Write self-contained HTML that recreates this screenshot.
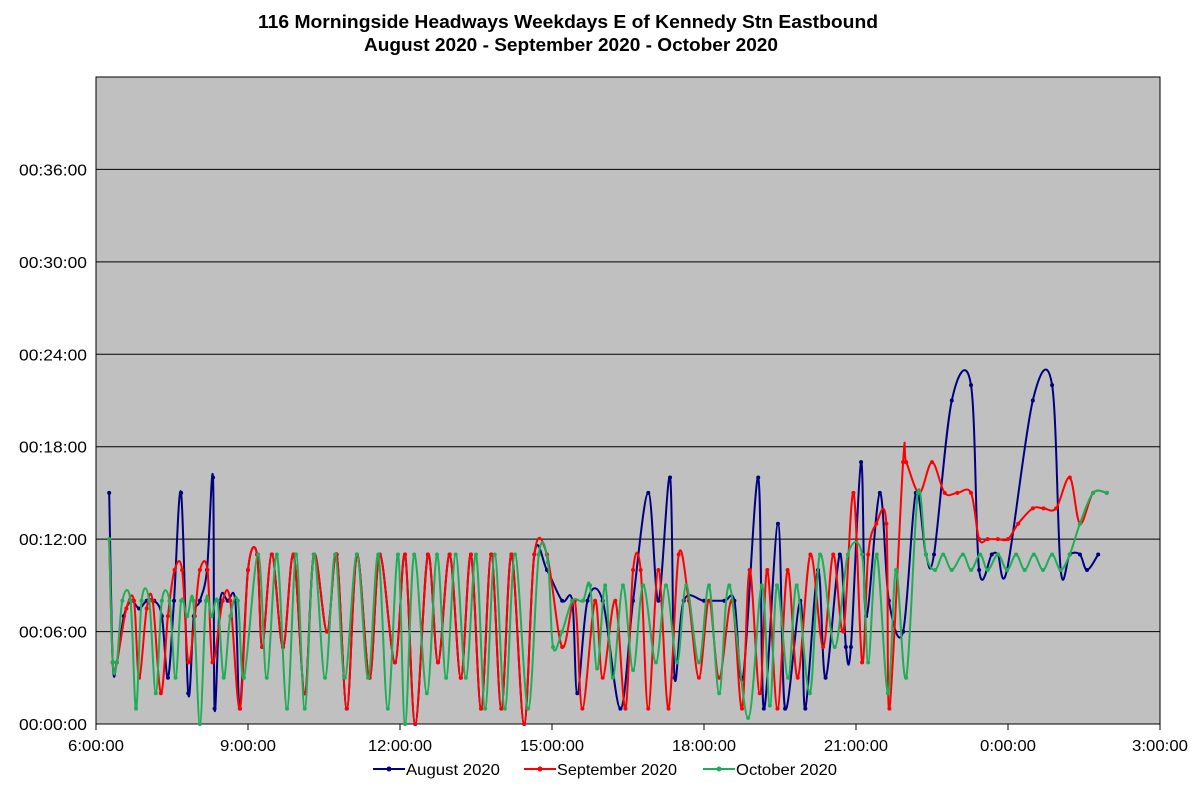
<!DOCTYPE html>
<html><head><meta charset="utf-8"><style>
body{margin:0;background:#fff;font-family:"Liberation Sans",Arial,sans-serif}
</style></head><body>
<svg width="1203" height="782" xmlns="http://www.w3.org/2000/svg" id="chart" font-family="Liberation Sans, Arial, sans-serif">
<text x="568" y="28" text-anchor="middle" font-size="18" font-weight="bold" textLength="620" lengthAdjust="spacingAndGlyphs">116 Morningside Headways Weekdays E of Kennedy Stn Eastbound</text>
<text x="571" y="51" text-anchor="middle" font-size="18" font-weight="bold" textLength="414" lengthAdjust="spacingAndGlyphs">August 2020 - September 2020 - October 2020</text>
<rect x="96" y="77" width="1064" height="647" fill="#C0C0C0" stroke="#000" stroke-width="1"/>
<g id="grid"></g><g id="axes"></g><g id="series"></g><g id="legend"></g>
</svg>
<script>
const yTicks=[0,6,12,18,24,30,36];
const yTickLabels=["00:00:00","00:06:00","00:12:00","00:18:00","00:24:00","00:30:00","00:36:00"];
const xTicks=[6,9,12,15,18,21,24,27];
const xTickLabels=["6:00:00","9:00:00","12:00:00","15:00:00","18:00:00","21:00:00","0:00:00","3:00:00"];
const augT=[6.26,6.33,6.41,6.55,6.7,6.85,7.0,7.15,7.3,7.42,7.54,7.68,7.82,7.93,8.05,8.19,8.31,8.34,8.45,8.6,8.75,8.84,9.0,9.18,9.28,9.47,9.69,9.9,10.12,10.3,10.56,10.75,10.95,11.15,11.4,11.6,11.9,12.1,12.3,12.55,12.75,12.98,13.2,13.4,13.6,13.8,14.0,14.2,14.45,14.65,14.9,15.2,15.4,15.5,15.7,16.0,16.35,16.6,16.9,17.1,17.33,17.42,17.6,18.0,18.4,18.6,18.77,19.07,19.18,19.46,19.6,19.9,20.0,20.25,20.4,20.68,20.8,20.9,21.1,21.2,21.47,21.65,21.93,22.18,22.38,22.54,22.89,23.27,23.43,23.68,23.8,23.98,24.49,24.87,25.04,25.22,25.42,25.56,25.78];
const augV=[15,4,4,7,8,7.5,8,8,7,3,8,15,2,7,8,10,16,1,8,8,8,1,10,11,5,11,5,11,2,11,6,11,1,11,3,11,4,11,0,11,4,11,3,11,1,11,1,11,0,11,10,8,8,2,8,8,1,8,15,8,16,3,8,8,8,8,3,16,1,13,1,8,1,10,3,11,5,5,17,7,15,8,6,15,11,11,21,22,10,11,11,10,21,22,10,11,11,10,11];
const sepT=[6.26,6.33,6.41,6.6,6.75,6.85,7.0,7.12,7.28,7.42,7.55,7.7,7.82,7.95,8.05,8.2,8.3,8.5,8.65,8.84,9.0,9.18,9.28,9.47,9.69,9.9,10.12,10.3,10.56,10.75,10.95,11.15,11.4,11.6,11.9,12.1,12.3,12.55,12.75,12.98,13.2,13.4,13.6,13.8,14.0,14.2,14.45,14.65,14.9,15.2,15.45,15.6,15.85,16.0,16.25,16.45,16.6,16.75,16.9,17.1,17.3,17.5,17.7,17.9,18.1,18.3,18.55,18.75,18.9,19.1,19.25,19.45,19.65,19.85,20.1,20.35,20.55,20.75,20.95,21.12,21.24,21.4,21.6,21.66,21.93,21.99,22.25,22.5,22.75,23.0,23.27,23.43,23.6,23.8,24.0,24.2,24.49,24.7,24.95,25.22,25.42,25.68,25.95];
const sepV=[12,4,4,7.5,8,3,7.5,8,2,7,10,10,4,7,10,10,4,8,8,1,10,11,5,11,5,11,2,11,6,11,1,11,3,11,4,11,0,11,4,11,3,11,1,11,1,11,0,11,11,5,8,1,8,3,8,1,10,10,1,10,1,11,8,3,8,3,8,1,10,2,10,1,10,3,11,5,11,6,15,4,11,13,13,1,17,17,15,17,15,15,15,12,12,12,12,13,14,14,14,16,13,15,15];
const octT=[6.26,6.33,6.41,6.52,6.68,6.79,6.9,7.05,7.18,7.3,7.45,7.57,7.68,7.8,7.92,8.05,8.17,8.28,8.4,8.52,8.65,8.8,8.92,9.2,9.37,9.57,9.77,9.95,10.12,10.3,10.52,10.72,10.91,11.15,11.37,11.57,11.76,11.96,12.1,12.28,12.53,12.73,12.91,13.1,13.3,13.5,13.68,13.87,14.07,14.27,14.53,14.74,14.92,15.02,15.2,15.4,15.61,15.75,15.89,16.05,16.2,16.4,16.6,16.8,17.05,17.25,17.47,17.65,17.9,18.1,18.3,18.5,18.87,19.14,19.3,19.44,19.66,19.83,20.09,20.29,20.58,20.84,21.12,21.24,21.41,21.63,21.79,21.99,22.22,22.38,22.56,22.72,22.89,23.11,23.27,23.45,23.6,23.8,23.98,24.16,24.33,24.51,24.69,24.87,25.04,25.22,25.42,25.68,25.95];
const octV=[12,4,4,8,8,1,8,8,2,8,8,3,8,7,8,0,8,7,8,3,7,8,3,11,3,11,1,11,1,11,3,11,3,11,3,11,1,11,0,11,2,11,3,11,3,11,1,11,1,11,1,11,10.5,5,6,8,8,9,3.6,9,3,9,3.5,9,4,9,4,9,4,9,2,9,0.4,9,1.2,9,3,9,2,11,5,11,11,4,11,2,10,3,15,11,10,11,10,11,10,11,10,11,10,11,10,11,10,11,10,11,13,15,15];
const L=96,R=1160,T=77,B=724,XMIN=6,XMAX=27,YMAX=42;
const xs=h=>L+(h-XMIN)/(XMAX-XMIN)*(R-L);
const ys=v=>B-v/YMAX*(B-T);
const NS="http://www.w3.org/2000/svg";
function mk(tag,attrs,parent){const e=document.createElementNS(NS,tag);for(const k in attrs)e.setAttribute(k,attrs[k]);parent.appendChild(e);return e;}
const grid=document.getElementById('grid'),axes=document.getElementById('axes');
yTicks.forEach((v,i)=>{
  if(v>0){const g=mk('line',{x1:L,x2:R,y1:ys(v),y2:ys(v),stroke:'#000','stroke-width':1},grid);
  
  }
  const t=mk('text',{x:L-9,y:ys(v)+6,'text-anchor':'end','font-size':16,textLength:68,lengthAdjust:'spacingAndGlyphs'},axes);t.textContent=yTickLabels[i];
  
  
});
xTicks.forEach((h,i)=>{
  const k=mk('line',{x1:xs(h),x2:xs(h),y1:B,y2:B+6,stroke:'#000'},axes);
  
  
  const w=xTickLabels[i].length*8;
  const t=mk('text',{x:xs(h),y:B+27,'text-anchor':'middle','font-size':16,textLength:w,lengthAdjust:'spacingAndGlyphs'},axes);t.textContent=xTickLabels[i];
  
  
});
function smooth(pts){
  let d=`M${pts[0][0]},${pts[0][1]}`;
  for(let i=0;i<pts.length-1;i++){
    const p0=pts[Math.max(0,i-1)],p1=pts[i],p2=pts[i+1],p3=pts[Math.min(pts.length-1,i+2)];
    const c1=[p1[0]+(p2[0]-p0[0])/6,p1[1]+(p2[1]-p0[1])/6];
    const c2=[p2[0]-(p3[0]-p1[0])/6,p2[1]-(p3[1]-p1[1])/6];
    d+=` C${c1[0].toFixed(1)},${c1[1].toFixed(1)} ${c2[0].toFixed(1)},${c2[1].toFixed(1)} ${p2[0].toFixed(1)},${p2[1].toFixed(1)}`;
  }
  return d;
}
const seriesG=document.getElementById('series');
const defs=[["august-2020",augT,augV,"#000080"],["september-2020",sepT,sepV,"#FF0000"],["october-2020",octT,octV,"#1DAE57"]];
defs.forEach(([name,T_,V_,col])=>{
  const g=mk('g',{},seriesG);
  
  
  const pts=T_.map((t,i)=>[xs(t),ys(V_[i])]);
  const p=mk('path',{d:smooth(pts),fill:'none',stroke:col,'stroke-width':2},g);
  
  
  pts.forEach(q=>{const c=mk('circle',{cx:q[0],cy:q[1],r:2,fill:col},g);
    
    });
});
const lg=document.getElementById('legend');
const legendItems=[["August 2020","#000080",373,94],["September 2020","#FF0000",524,120],["October 2020","#1DAE57",703,101]];
legendItems.forEach(([lab,col,x,w])=>{
  const g=mk('g',{},lg);
  
  
  mk('line',{x1:x,x2:x+32,y1:769,y2:769,stroke:col,'stroke-width':2},g);
  mk('circle',{cx:x+16,cy:769,r:2.5,fill:col},g);
  const t=mk('text',{x:x+33,y:775,'font-size':16,textLength:w,lengthAdjust:'spacingAndGlyphs'},g);t.textContent=lab;
});
</script>
</body></html>
